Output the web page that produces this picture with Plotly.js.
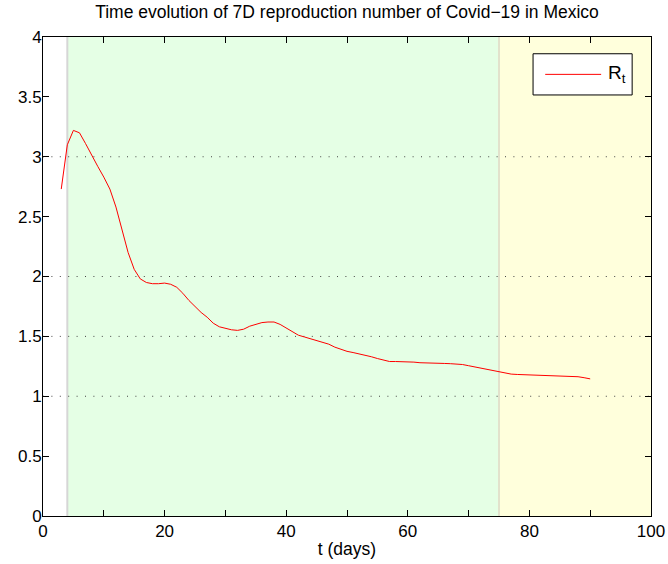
<!DOCTYPE html>
<html>
<head>
<meta charset="utf-8">
<script src="https://cdn.plot.ly/plotly-3.0.1.min.js"></script>
<style>html,body{margin:0;padding:0;background:#fff}#chart{width:668px;height:564px}</style>
</head>
<body>
<div id="chart"></div>
<script>
const days = [3,4,5,6,7,8,9,10,11,12,13,14,15,16,17,18,19,20,21,22,23,24,25,26,27,28,29,30,31,32,33,34,35,36,37,38,39,40,41,42,43,44,45,46,47,48,49,50,51,52,53,54,55,56,57,58,59,60,61,62,63,64,65,66,67,68,69,70,71,72,73,74,75,76,77,78,79,80,81,82,83,84,85,86,87,88,89,90];
const rt = [2.73,3.10,3.22,3.20,3.11,3.01,2.92,2.83,2.73,2.58,2.38,2.20,2.06,1.98,1.95,1.94,1.94,1.945,1.935,1.91,1.86,1.80,1.75,1.70,1.66,1.61,1.58,1.565,1.555,1.55,1.56,1.585,1.60,1.615,1.62,1.62,1.60,1.57,1.535,1.51,1.495,1.48,1.47,1.455,1.435,1.41,1.39,1.375,1.365,1.355,1.345,1.33,1.315,1.30,1.29,1.29,1.29,1.29,1.285,1.28,1.277,1.275,1.275,1.274,1.272,1.27,1.265,1.255,1.245,1.235,1.225,1.21,1.20,1.19,1.185,1.182,1.18,1.178,1.177,1.175,1.173,1.172,1.171,1.17,1.168,1.163,1.155,1.145];
const phaseBounds = [4, 75, 100];
const refLevels = [1, 1.5, 2, 3];
const xTicks = [0,20,40,60,80,100];
const yTicks = [0,0.5,1,1.5,2,2.5,3,3.5,4];
const seriesName = 'R<sub>t</sub>';

const FONT = 'Liberation Sans, Arial, sans-serif';
const shapes = [
  {type:'rect', xref:'x', yref:'paper', x0:phaseBounds[0], x1:phaseBounds[1], y0:0, y1:1, fillcolor:'#e5ffe5', line:{width:0}, layer:'below'},
  {type:'rect', xref:'x', yref:'paper', x0:phaseBounds[1], x1:phaseBounds[2], y0:0, y1:1, fillcolor:'#ffffdc', line:{width:0}, layer:'below'},
  {type:'line', xref:'x', yref:'paper', x0:phaseBounds[0], x1:phaseBounds[0], y0:0, y1:1, line:{color:'#d6d6d6', width:2}, layer:'below'},
  {type:'line', xref:'x', yref:'paper', x0:phaseBounds[1], x1:phaseBounds[1], y0:0, y1:1, line:{color:'#e2e2cc', width:2}, layer:'below'}
];
refLevels.forEach(v => shapes.push({type:'line', xref:'paper', yref:'y', x0:0, x1:1, y0:v, y1:v, line:{color:'#444', width:1, dash:'1px,7.4px'}, layer:'below'}));
// legend box (MATLAB style)
shapes.push({type:'rect', xref:'paper', yref:'paper', x0:0.806, x1:0.969, y0:0.879, y1:0.965, fillcolor:'#fff', line:{color:'#000', width:1}});
shapes.push({type:'line', xref:'paper', yref:'paper', x0:0.826, x1:0.918, y0:0.922, y1:0.922, line:{color:'#ff0000', width:1}});

const data = [{x: days, y: rt, type:'scatter', mode:'lines', name:seriesName, line:{color:'#ff0000', width:1}, showlegend:false}];

const layout = {
  width:668, height:564,
  margin:{l:43, r:17, t:37, b:48},
  paper_bgcolor:'#fff', plot_bgcolor:'#fff',
  font:{family:FONT, size:17, color:'#000'},
  title:{text:'Time evolution of 7D reproduction number of Covid\u221219 in Mexico', font:{family:FONT, size:17.5, color:'#000'}, x:0.5, xanchor:'center', xref:'paper', yref:'container', y:0.99, yanchor:'top'},
  xaxis:{range:[0,100], tickvals:xTicks, ticks:'inside', ticklen:6, tickcolor:'#000', mirror:'ticks', showline:true, linecolor:'#000', linewidth:1, showgrid:false, zeroline:false,
    minor:{dtick:10, ticks:'inside', ticklen:6, tickcolor:'#000'},
    title:{text:'t (days)', font:{family:FONT, size:17.5, color:'#000'}, standoff:2}, tickfont:{family:FONT, size:17, color:'#000'}},
  yaxis:{range:[0,4], tickvals:yTicks, ticks:'inside', ticklen:6, tickcolor:'#000', mirror:'ticks', showline:true, linecolor:'#000', linewidth:1, showgrid:false, zeroline:false, ticklabelstandoff:-3, tickfont:{family:FONT, size:17, color:'#000'}},
  shapes: shapes,
  annotations:[{xref:'paper', yref:'paper', x:0.926, y:0.922, xanchor:'left', yanchor:'middle', text:seriesName, showarrow:false, font:{family:FONT, size:19, color:'#000'}}],
  showlegend:false
};
Plotly.newPlot('chart', data, layout, {displayModeBar:false, staticPlot:true});
</script>
</body>
</html>
